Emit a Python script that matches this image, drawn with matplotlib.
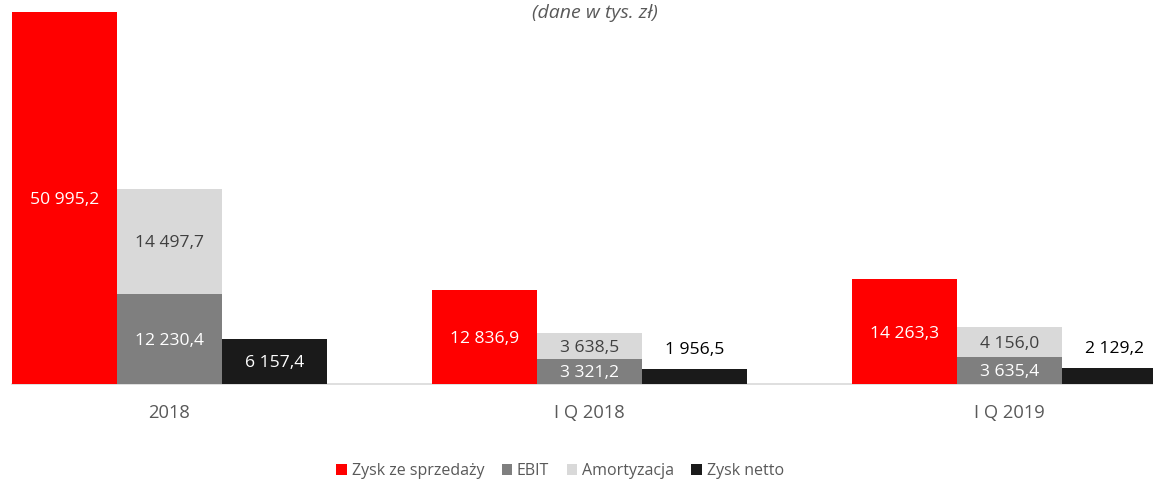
import matplotlib

matplotlib.use("Agg")
import matplotlib.pyplot as plt
import numpy as np

plt.rcParams["font.family"] = ["Open Sans", "DejaVu Sans"]

# data (tys. zł)
categories = ["2018", "I Q 2018", "I Q 2019"]
zysk_sprzedazy = [50995.2, 12836.9, 14263.3]
ebit = [12230.4, 3321.2, 3635.4]
amortyzacja = [14497.7, 3638.5, 4156.0]
zysk_netto = [6157.4, 1956.5, 2129.2]

RED = "#ff0000"
GRAY = "#7f7f7f"
LIGHT = "#d9d9d9"
BLACK = "#1a1a1a"
TEXT = "#595959"
FS = 12.6

W, H = 1153, 480
base_px = 383.5          # baseline, pixels from top
top_px = 11.5            # top of the tallest bar
centers_px = [169.5, 589.5, 1009.5]
group_px = 420.0

fig = plt.figure(figsize=(W / 100, H / 100), dpi=100)
ax = fig.add_axes([0, (H - base_px) / H, 1, base_px / H])
ax.set_xlim(-centers_px[0] / group_px, (W - centers_px[0]) / group_px)
ax.set_ylim(0, base_px / (base_px - top_px) * max(zysk_sprzedazy))
for s in ax.spines.values():
    s.set_visible(False)
ax.set_yticks([])

x = np.arange(len(categories))
w = 0.25
b1 = ax.bar(x - w, zysk_sprzedazy, w, color=RED, label="Zysk ze sprzedaży", zorder=2)
b2 = ax.bar(x, ebit, w, color=GRAY, label="EBIT", zorder=2)
b3 = ax.bar(x, amortyzacja, w, bottom=ebit, color=LIGHT, label="Amortyzacja", zorder=2)
b4 = ax.bar(x + w, zysk_netto, w, color=BLACK, label="Zysk netto", zorder=2)

ax.plot([x[0] - 1.5 * w, ax.get_xlim()[1]], [0, 0], color="#d9d9d9", lw=1.2,
        zorder=1, clip_on=False)


def fmt(v):
    s = f"{v:,.1f}"
    return s.replace(",", " ").replace(".", ",")


def label_center(bars, vals, color):
    for b, v in zip(bars, vals):
        ax.annotate(fmt(v), (b.get_x() + b.get_width() / 2, b.get_y() + b.get_height() / 2),
                    xytext=(0, -1.5), textcoords="offset points",
                    ha="center", va="center", color=color, fontsize=FS, zorder=3)


label_center(b1, zysk_sprzedazy, "white")
label_center(b2, ebit, "white")
label_center(b3, amortyzacja, "#404040")
for b, v in zip(b4, zysk_netto):
    cx = b.get_x() + b.get_width() / 2
    if v < 3000:
        ax.annotate(fmt(v), (cx, b.get_height()), xytext=(0, 13.5),
                    textcoords="offset points", ha="center", va="center",
                    color="black", fontsize=FS)
    else:
        ax.annotate(fmt(v), (cx, b.get_height() / 2), xytext=(0, -1.5),
                    textcoords="offset points", ha="center", va="center",
                    color="white", fontsize=FS, zorder=3)

ax.set_xticks(x)
ax.set_xticklabels(categories, color=TEXT, fontsize=13.2)
ax.tick_params(axis="x", length=0, pad=15)

fig.text(594.5 / W, 1 - 13 / H, "(dane w tys. zł)", ha="center", va="center",
         style="italic", color=TEXT, fontsize=14)

fig.legend(handles=[b1, b2, b3, b4], loc="center",
           bbox_to_anchor=(560 / W, 1 - 471 / H), ncol=4, frameon=False,
           fontsize=11.5, labelcolor=TEXT, handlelength=0.65, handleheight=0.65,
           handletextpad=0.3, columnspacing=1.1)

fig.savefig("out.png", dpi=100)
